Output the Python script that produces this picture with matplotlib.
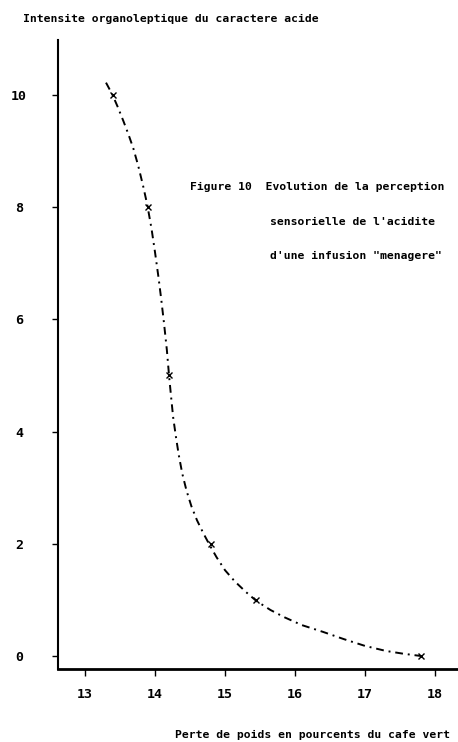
import matplotlib
matplotlib.use("Agg")
import matplotlib.pyplot as plt

# Measured points (marked with x)
x_pts = [13.4, 13.9, 14.2, 14.8, 15.45, 17.8]
y_pts = [10.0, 8.0, 5.0, 2.0, 1.0, 0.0]

# Hand-drawn curve through the measurements
x_curve = [13.30, 13.39, 13.47, 13.55, 13.62, 13.69, 13.76, 13.83, 13.89, 13.95,
           14.00, 14.05, 14.09, 14.13, 14.17, 14.20, 14.23, 14.26, 14.30, 14.34,
           14.39, 14.45, 14.52, 14.60, 14.69, 14.78, 14.88, 15.00, 15.14, 15.30,
           15.45, 15.65, 15.85, 16.10, 16.40, 16.70, 17.00, 17.30, 17.55, 17.80]
y_curve = [10.22, 10.01, 9.78, 9.53, 9.30, 9.05, 8.74, 8.38, 8.04, 7.62,
           7.20, 6.75, 6.35, 5.92, 5.45, 5.01, 4.62, 4.25, 3.90, 3.58,
           3.25, 2.95, 2.67, 2.42, 2.19, 1.98, 1.76, 1.53, 1.33, 1.14,
           0.98, 0.82, 0.69, 0.55, 0.43, 0.30, 0.18, 0.09, 0.04, 0.00]

x_ticks = [13, 14, 15, 16, 17, 18]
y_ticks = [0, 2, 4, 6, 8, 10]

W, H = 458, 742
fig = plt.figure(figsize=(W / 100, H / 100), dpi=100)
fig.patch.set_facecolor("white")

ax = fig.add_axes([58 / W, (H - 669) / H, (W - 58) / W, (669 - 40) / H])
ax.set_xlim(12.614, 18.33)
ax.set_ylim(-0.232, 10.98)

ax.plot(x_curve, y_curve, color="black", lw=1.4,
        linestyle=(0, (4, 2.5, 1, 2.5)))
ax.plot(x_pts, y_pts, linestyle="none", marker="x", color="black",
        markersize=4, markeredgewidth=1.0)

for side in ("top", "right"):
    ax.spines[side].set_visible(False)
ax.spines["left"].set_linewidth(1.5)
ax.spines["bottom"].set_linewidth(2.0)

mono = "DejaVu Sans Mono"
ax.set_xticks(x_ticks)
ax.set_xticklabels([str(v) for v in x_ticks], family=mono, fontsize=9.5,
                   fontweight="bold")
ax.set_yticks(y_ticks)
ax.set_yticklabels([str(v) for v in y_ticks], family=mono, fontsize=9.5,
                   fontweight="bold")
for lbl in ax.get_yticklabels():
    lbl.set_horizontalalignment("center")
ax.tick_params(axis="y", direction="out", length=4, width=1.0, pad=24)
ax.tick_params(axis="x", direction="out", length=5, width=1.0, pad=9)

txt = dict(family=mono, fontsize=8.2, fontweight="bold", color="black")
fig.text(23 / W, 1 - 19 / H, "Intensite organoleptique du caractere acide",
         ha="left", va="center", **txt)
fig.text(450 / W, 1 - 735 / H, "Perte de poids en pourcents du cafe vert",
         ha="right", va="center", **txt)
fig.text(190 / W, 1 - 187 / H, "Figure 10  Evolution de la perception",
         ha="left", va="center", **txt)
fig.text(270 / W, 1 - 222 / H, "sensorielle de l'acidite",
         ha="left", va="center", **txt)
fig.text(270 / W, 1 - 256 / H, "d'une infusion \"menagere\"",
         ha="left", va="center", **txt)

fig.savefig("out.png", dpi=100, facecolor="white")
